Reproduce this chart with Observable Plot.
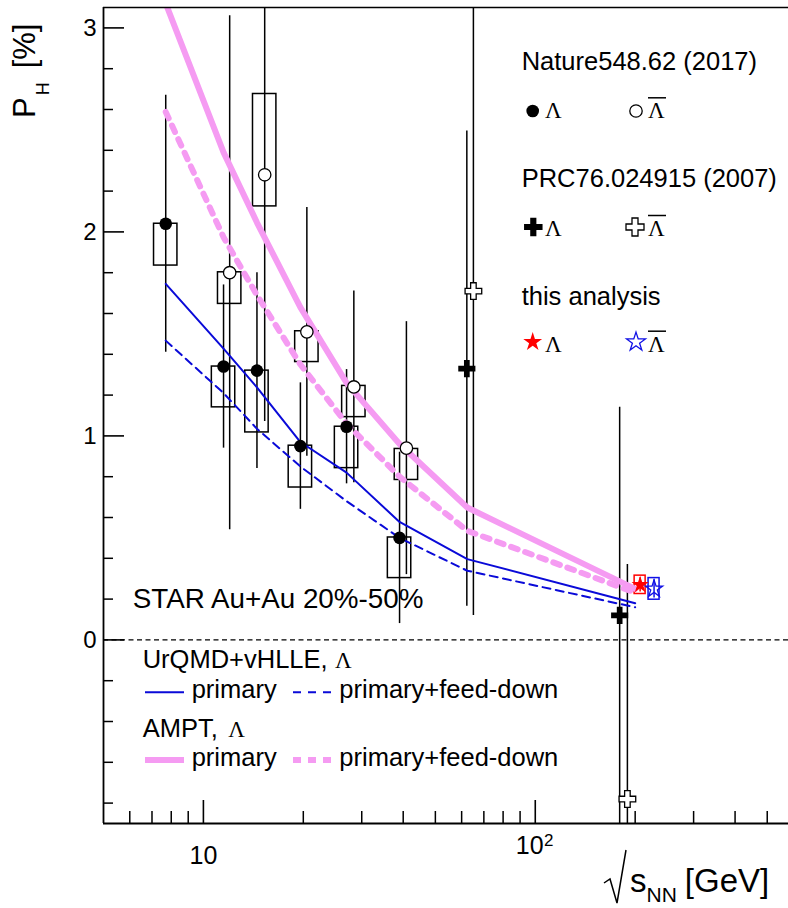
<!DOCTYPE html>
<html>
<head>
<meta charset="utf-8">
<script src="https://cdn.jsdelivr.net/npm/d3@7"></script>
<script src="https://cdn.jsdelivr.net/npm/@observablehq/plot@0.6"></script>
<style>
  html, body { margin: 0; padding: 0; background: #fff; }
  #chart svg { display: block; }
</style>
</head>
<body>
<div id="chart"></div>
<script>
// ---------- axes ----------
const xDomain = [5, 579.5];
const yDomain = [-0.9, 3.1];
const xMajorTicks = [10, 100];
const xTickMantissa = ["10", "10"];
const xTickExponent = ["", "2"];
const xMinorTicks = [6, 7, 8, 9, 20, 30, 40, 50, 60, 70, 80, 90, 200, 300, 400, 500];
const yMajorTicks = [0, 1, 2, 3];
const yTickLabels = ["0", "1", "2", "3"];
const yMinorTicks = [-0.8, -0.6, -0.4, -0.2, 0.2, 0.4, 0.6, 0.8, 1.2, 1.4, 1.6, 1.8, 2.2, 2.4, 2.6, 2.8];

// ---------- STAR, Nature 548, 62 (2017) ----------
const natureLambdaEnergy = [7.7, 11.5, 14.5, 19.6, 27, 39];
const natureLambdaPH     = [2.04, 1.34, 1.32, 0.95, 1.045, 0.50];
const natureLambdaStat   = [0.63, 0.40, 0.48, 0.31, 0.28, 0.42];
const natureLambdaSysLo  = [1.835, 1.14, 1.017, 0.747, 0.842, 0.303];
const natureLambdaSysHi  = [2.04, 1.34, 1.32, 0.952, 1.045, 0.502];

const natureAntiEnergy = [12.0, 15.3, 20.5, 28.4, 40.9];
const natureAntiPH     = [1.80, 2.28, 1.51, 1.24, 0.94];
const natureAntiStat   = [1.26, 1.21, 0.61, 0.47, 0.62];
const natureAntiSysLo  = [1.647, 2.125, 1.362, 1.092, 0.784];
const natureAntiSysHi  = [1.802, 2.676, 1.513, 1.245, 0.936];

// ---------- STAR, PRC 76, 024915 (2007) ----------
const prcLambdaEnergy = [62.2, 179.6];
const prcLambdaPH     = [1.33, 0.12];
const prcLambdaStat   = [1.165, 1.02];
const prcAntiEnergy   = [65.1, 189.5];
const prcAntiPH       = [1.71, -0.78];
const prcAntiStat     = [1.59, 1.15];

// ---------- this analysis (Λ, anti-Λ) ----------
const thisEnergy = [207, 228];
const thisPH     = [0.27, 0.25];
const thisStat   = [0.035, 0.045];
const thisSys    = [0.045, 0.053];
const thisColor  = ["#ff0000", "#1010e6"];

// ---------- model curves ----------
const modelEnergy        = [7.7, 11.5, 14.5, 19.6, 27, 39, 62.4, 200];
const urqmdPrimary       = [1.745, 1.428, 1.238, 0.97, 0.82, 0.578, 0.396, 0.18];
const urqmdFeedDown      = [1.467, 1.21, 1.035, 0.85, 0.68, 0.50, 0.339, 0.16];
const amptPrimary        = [3.12, 2.39, 2.046, 1.63, 1.26, 0.96, 0.649, 0.25];
const amptFeedDown       = [2.588, 1.974, 1.69, 1.35, 1.06, 0.80, 0.535, 0.232];

// ---------- build tables ----------
const rows = (e, v, stat, lo, hi) => e.map((x, i) => ({
  e: x, v: v[i], s: stat ? stat[i] : 0,
  lo: lo ? lo[i] : null, hi: hi ? hi[i] : null
}));
const natureL = rows(natureLambdaEnergy, natureLambdaPH, natureLambdaStat, natureLambdaSysLo, natureLambdaSysHi);
const natureA = rows(natureAntiEnergy, natureAntiPH, natureAntiStat, natureAntiSysLo, natureAntiSysHi);
const prcL = rows(prcLambdaEnergy, prcLambdaPH, prcLambdaStat);
const prcA = rows(prcAntiEnergy, prcAntiPH, prcAntiStat);
const thisRows = thisEnergy.map((e, i) => ({
  e, v: thisPH[i], s: thisStat[i], lo: thisPH[i] - thisSys[i], hi: thisPH[i] + thisSys[i], c: thisColor[i]
}));
const curve = (vals) => modelEnergy.map((e, i) => ({e, v: vals[i]}));
const xTicks = xMajorTicks.map((v, i) => ({v, m: xTickMantissa[i], p: xTickExponent[i]}));

// ---------- layout ----------
const W = 788, H = 908;
const mL = 103, mR = 0, mT = 7, mB = 85;
const plotW = W - mL - mR, plotH = H - mT - mB;
const decadePx = plotW / Math.log10(xDomain[1] / xDomain[0]);
const natureBoxK = 10 ** (11.7 / decadePx);
const thisBoxK = 10 ** (5.5 / decadePx);

const sans = "'Liberation Sans', Arial, Helvetica, sans-serif";
const serif = "'Liberation Serif', 'Times New Roman', serif";
const BLUE = "#0a0ad8";
const PINK = "#f59bf2";

const errBar = (data, stroke = "#000") => Plot.ruleX(data, {
  x: "e", y1: d => d.v - d.s, y2: d => d.v + d.s, stroke, strokeWidth: 1.5, clip: true
});
const sysBox = (data, k, stroke = "#000") => Plot.rect(data, {
  x1: d => d.e / k, x2: d => d.e * k, y1: "lo", y2: "hi",
  fill: "none", stroke, strokeWidth: 1.5, clip: true
});

const chart = Plot.plot({
  width: W, height: H,
  marginLeft: mL, marginRight: mR, marginTop: mT, marginBottom: mB,
  style: {fontFamily: sans, background: "#fff", overflow: "visible"},
  x: {type: "log", domain: xDomain, axis: null},
  y: {domain: yDomain, axis: null},
  marks: [
    Plot.ruleY([0], {stroke: "#000", strokeWidth: 1.2, strokeDasharray: "5,3.5"}),

    // systematic uncertainties
    sysBox(natureL, natureBoxK),
    sysBox(natureA, natureBoxK),
    Plot.rect(thisRows, {x1: d => d.e / thisBoxK, x2: d => d.e * thisBoxK, y1: "lo", y2: "hi",
      fill: "none", stroke: "c", strokeWidth: 1.5}),

    // statistical uncertainties
    errBar(natureL), errBar(natureA), errBar(prcL), errBar(prcA),
    Plot.ruleX(thisRows, {x: "e", y1: d => d.v - d.s, y2: d => d.v + d.s, stroke: "c", strokeWidth: 1.5}),

    // model calculations
    Plot.line(curve(amptPrimary), {x: "e", y: "v", stroke: PINK, strokeWidth: 6, clip: true}),
    Plot.line(curve(amptFeedDown), {x: "e", y: "v", stroke: PINK, strokeWidth: 6, strokeDasharray: "7,8", clip: true}),
    Plot.line(curve(urqmdPrimary), {x: "e", y: "v", stroke: BLUE, strokeWidth: 2, clip: true}),
    Plot.line(curve(urqmdFeedDown), {x: "e", y: "v", stroke: BLUE, strokeWidth: 2, strokeDasharray: "8,5.5", clip: true}),

    // measurements
    Plot.dot(natureL, {x: "e", y: "v", r: 6.3, fill: "#000", stroke: "none"}),
    Plot.dot(natureA, {x: "e", y: "v", r: 6.2, fill: "#fff", stroke: "#000", strokeWidth: 1.3}),
    Plot.dot(prcL, {x: "e", y: "v", symbol: "cross", r: 7.2, fill: "#000", stroke: "none", clip: true}),
    Plot.dot(prcA, {x: "e", y: "v", symbol: "cross", r: 7.0, fill: "#fff", stroke: "#000", strokeWidth: 1.3, clip: true}),
    Plot.dot(thisRows.slice(0, 1), {x: "e", y: "v", symbol: "star", r: 5.4, fill: "c", stroke: "none"}),
    Plot.dot(thisRows.slice(1), {x: "e", y: "v", symbol: "star", r: 5.4, fill: "none", stroke: "c", strokeWidth: 1.3}),

    // frame and ticks
    Plot.ruleX([xDomain[0]], {stroke: "#000", strokeWidth: 1.8}),
    Plot.ruleY([yDomain[0]], {stroke: "#000", strokeWidth: 1.8}),
    Plot.ruleY([yDomain[1]], {stroke: "#000", strokeWidth: 1.5}),
    Plot.tickY(yMajorTicks, {y: d => d, insetRight: plotW - 21, stroke: "#000", strokeWidth: 1.6}),
    Plot.tickY(yMinorTicks, {y: d => d, insetRight: plotW - 10, stroke: "#000", strokeWidth: 1.5}),
    Plot.tickX(xMajorTicks, {x: d => d, insetTop: plotH - 23, stroke: "#000", strokeWidth: 1.6}),
    Plot.tickX(xMinorTicks, {x: d => d, insetTop: plotH - 12, stroke: "#000", strokeWidth: 1.5}),

    // tick labels (powers of ten drawn raised and offset to the right of the mantissa)
    Plot.text(yMajorTicks, {y: d => d, frameAnchor: "left", dx: -7, textAnchor: "end",
      text: (d, i) => yTickLabels[i], fontSize: 24, fill: "#000"}),
    Plot.text(xTicks.filter(d => !d.p), {x: "v", frameAnchor: "bottom", dy: 40, lineAnchor: "bottom",
      text: "m", fontSize: 25, fill: "#000"}),
    Plot.text(xTicks.filter(d => d.p), {x: "v", frameAnchor: "bottom", dx: -5.5, dy: 30, lineAnchor: "bottom",
      text: "m", fontSize: 25, fill: "#000"}),
    Plot.text(xTicks.filter(d => d.p), {x: "v", frameAnchor: "bottom", dx: 13.5, dy: 22, lineAnchor: "bottom",
      text: "p", fontSize: 17, fill: "#000"})
  ]
});
document.getElementById("chart").appendChild(chart);

// ---------- titles, annotations and legends ----------
const svg = d3.select(chart);
const g = svg.append("g").attr("font-family", sans).attr("fill", "#000").attr("text-anchor", "start");

const text = (x, y, str, size = 25.5, family = sans) =>
  g.append("text").attr("x", x).attr("y", y).attr("font-size", size).attr("font-family", family)
    .attr("text-anchor", "start").text(str);
const lambda = (x, y, bar) => {
  text(x, y, "Λ", 23, serif);
  if (bar) g.append("line").attr("x1", x).attr("x2", x + 18).attr("y1", y - 20.5).attr("y2", y - 20.5)
    .attr("stroke", "#000").attr("stroke-width", 1.5);
};
const symbol = (type, size, x, y, fill, stroke) =>
  g.append("path").attr("d", d3.symbol(type, size)()).attr("transform", `translate(${x},${y})`)
    .attr("fill", fill).attr("stroke", stroke || "none").attr("stroke-width", 1.3);

// y title: P_H [%]
const yTitle = g.append("text").attr("transform", "translate(35,118) rotate(-90)")
  .attr("font-size", 31).attr("text-anchor", "start");
yTitle.append("tspan").text("P");
yTitle.append("tspan").attr("font-size", 18).attr("dy", 14).attr("dx", 2).text("H");
yTitle.append("tspan").attr("dy", -14).attr("dx", 14).text("[%]");

// x title: √s_NN [GeV]
const xTitle = g.append("text").attr("x", 630).attr("y", 892).attr("font-size", 33).attr("text-anchor", "start");
xTitle.append("tspan").text("s");
xTitle.append("tspan").attr("font-size", 21).attr("dy", 10).text("NN");
xTitle.append("tspan").attr("dy", -10).attr("dx", 8).text("[GeV]");
g.append("path").attr("d", "M604,883 L610,879 L617,903 L626,850")
  .attr("fill", "none").attr("stroke", "#000").attr("stroke-width", 1.5);

// upper-right legend: measurements
text(521.7, 70, "Nature548.62 (2017)");
symbol(d3.symbolCircle, Math.PI * 6.3 * 6.3, 532.7, 111, "#000");
lambda(545, 118.3, false);
symbol(d3.symbolCircle, Math.PI * 6.2 * 6.2, 636, 111, "#fff", "#000");
lambda(648, 118.3, true);

text(521.7, 186.7, "PRC76.024915 (2007)");
symbol(d3.symbolCross, 190, 533.3, 227, "#000");
lambda(545, 236, false);
symbol(d3.symbolCross, 180, 635, 227, "#fff", "#000");
lambda(648, 236, true);

text(521.7, 305, "this analysis");
symbol(d3.symbolStar, 110, 532.7, 342, thisColor[0]);
lambda(545, 351.7, false);
symbol(d3.symbolStar, 110, 636, 342, "none", thisColor[1]);
lambda(648, 351.7, true);

// system label
text(132.7, 607.7, "STAR Au+Au 20%-50%", 27.8);

// lower-left legend: models
text(142.7, 668.3, "UrQMD+vHLLE,");
lambda(335, 668.3, false);
g.append("line").attr("x1", 145).attr("x2", 184).attr("y1", 692.3).attr("y2", 692.3)
  .attr("stroke", BLUE).attr("stroke-width", 2);
text(191.7, 698.3, "primary");
g.append("line").attr("x1", 293).attr("x2", 331).attr("y1", 692.3).attr("y2", 692.3)
  .attr("stroke", BLUE).attr("stroke-width", 2).attr("stroke-dasharray", "8,7");
text(339.3, 698.3, "primary+feed-down");

text(142.7, 736.7, "AMPT,");
lambda(228.3, 736.7, false);
g.append("line").attr("x1", 145).attr("x2", 184).attr("y1", 760).attr("y2", 760)
  .attr("stroke", PINK).attr("stroke-width", 6);
text(191.7, 766, "primary");
g.append("line").attr("x1", 293).attr("x2", 331).attr("y1", 760).attr("y2", 760)
  .attr("stroke", PINK).attr("stroke-width", 6).attr("stroke-dasharray", "8,7");
text(339.3, 766, "primary+feed-down");
</script>
</body>
</html>
